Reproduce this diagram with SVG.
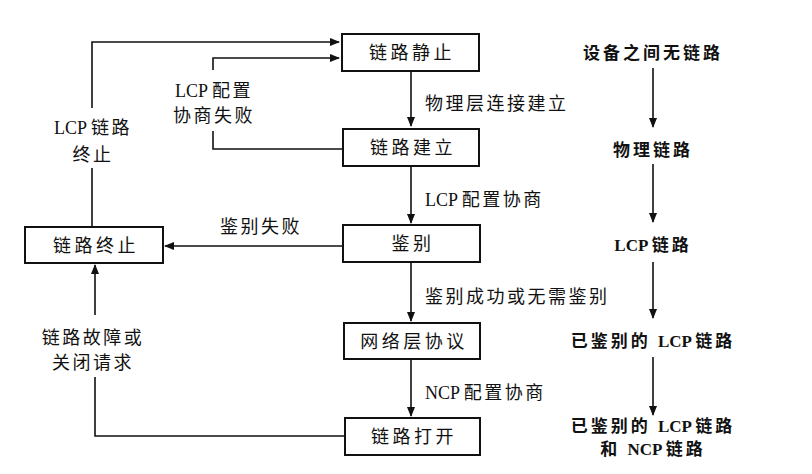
<svg xmlns="http://www.w3.org/2000/svg" width="812" height="474" viewBox="0 0 812 474">
<style>
text{font-family:"Liberation Serif","Noto Sans CJK SC",serif;font-size:18px;fill:#111;letter-spacing:2.5px}
.n{text-anchor:middle;font-size:18px;letter-spacing:3.5px}
.b{font-weight:bold;text-anchor:middle;font-size:17px;letter-spacing:3px}
.m{text-anchor:middle}
.l{letter-spacing:0}
rect{fill:#fff;stroke:#111;stroke-width:2}
.c path{fill:none;stroke:#111;stroke-width:1.6}
</style>
<defs><marker id="a" markerWidth="10" markerHeight="8" refX="9" refY="4" orient="auto" markerUnits="userSpaceOnUse"><path d="M0,0 L10,4 L0,8 Z" fill="#111"/></marker></defs>
<rect width="812" height="474" style="fill:#fff;stroke:none"/>
<g class="c">
<path d="M411,71 V126" marker-end="url(#a)"/>
<path d="M411,166 V223" marker-end="url(#a)"/>
<path d="M411,262 V321" marker-end="url(#a)"/>
<path d="M411,359 V416" marker-end="url(#a)"/>
<path d="M92,227 V168 M92,108 V42 H339" marker-end="url(#a)"/>
<path d="M343,149 H213 V131 M213,70 V58 H339" marker-end="url(#a)"/>
<path d="M343,246 H165" marker-end="url(#a)"/>
<path d="M345,436 H95 V377 M95,315 V265" marker-end="url(#a)"/>
<path d="M653,68 V127" marker-end="url(#a)"/>
<path d="M653,164 V222" marker-end="url(#a)"/>
<path d="M653,262 V318" marker-end="url(#a)"/>
<path d="M653,357 V415" marker-end="url(#a)"/>
</g>
<g id="n1"><rect x="342" y="34" width="137" height="37"/><text class="n" x="412" y="59">链路静止</text></g>
<g id="n2"><rect x="343" y="129" width="136" height="37"/><text class="n" x="413" y="154">链路建立</text></g>
<g id="n3"><rect x="343" y="225" width="137" height="37"/><text class="n" x="413" y="250">鉴别</text></g>
<g id="n4"><rect x="344" y="323" width="136" height="36"/><text class="n" x="414" y="348">网络层协议</text></g>
<g id="n5"><rect x="345" y="418" width="135" height="37"/><text class="n" x="414" y="443">链路打开</text></g>
<g id="n6"><rect x="25" y="227" width="138" height="36"/><text class="n" x="96" y="252">链路终止</text></g>
<g id="labels">
<text class="m" x="214" y="97"><tspan class="l">LCP </tspan>配置</text>
<text class="m" x="214" y="122">协商失败</text>
<text class="m" x="93" y="134"><tspan class="l">LCP </tspan>链路</text>
<text class="m" x="93" y="161">终止</text>
<text class="m" x="261" y="233">鉴别失败</text>
<text class="m" x="93" y="344">链路故障或</text>
<text class="m" x="93" y="369">关闭请求</text>
<text x="425" y="110">物理层连接建立</text>
<text x="425" y="206"><tspan class="l">LCP </tspan>配置协商</text>
<text x="425" y="303">鉴别成功或无需鉴别</text>
<text x="425" y="399"><tspan class="l">NCP </tspan>配置协商</text>
</g>
<g id="right">
<text class="b" x="653" y="59">设备之间无链路</text>
<text class="b" x="653" y="156">物理链路</text>
<text class="b" x="653" y="251"><tspan class="l">LCP </tspan>链路</text>
<text class="b" x="653" y="347">已鉴别的 <tspan class="l">LCP </tspan>链路</text>
<text class="b" x="653" y="432">已鉴别的 <tspan class="l">LCP </tspan>链路</text>
<text class="b" x="653" y="455">和 <tspan class="l">NCP </tspan>链路</text>
</g>
</svg>
